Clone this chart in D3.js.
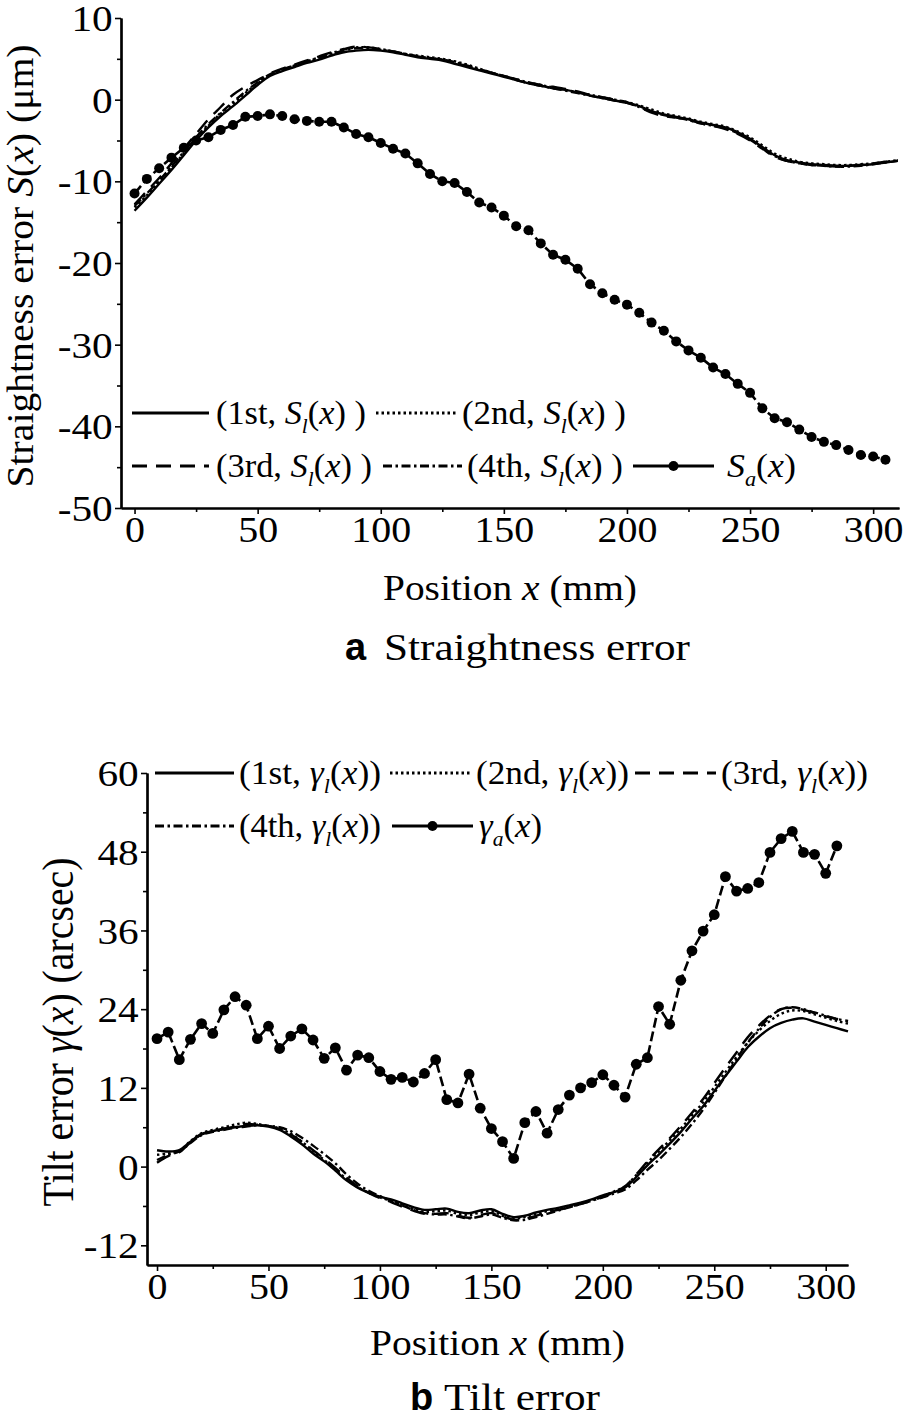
<!DOCTYPE html>
<html><head><meta charset="utf-8">
<script src="https://cdn.jsdelivr.net/npm/d3@7"></script>
<style>
body{margin:0;background:#fff}
svg{display:block}
text{font-family:"Times New Roman","Liberation Serif",Tinos,Times,serif;fill:#000}
</style>
</head><body>
<svg id="chart" width="904" height="1420"></svg>
<script>
// ---------------- DATA ----------------
const linePos = [0,5,10,15,20,25,30,35,40,45,50,55,60,65,70,75,80,85,90,95,100,105,110,115,120,125,130,135,140,145,150,155,160,165,170,175,180,185,190,195,200,205,210,215,220,225,230,235,240,245,250,255,260,265,270,275,280,285,290,295,300,305,310];
const dotPos = [0,5,10,15,20,25,30,35,40,45,50,55,60,65,70,75,80,85,90,95,100,105,110,115,120,125,130,135,140,145,150,155,160,165,170,175,180,185,190,195,200,205,210,215,220,225,230,235,240,245,250,255,260,265,270,275,280,285,290,295,300,305];

// (a) Straightness error, four measurement runs S_l(x)
const straight1st = [-13.6,-12.0,-10.3,-8.6,-6.8,-5.0,-3.4,-2.0,-0.8,0.5,
  1.8,2.9,3.5,4.0,4.5,4.9,5.4,5.8,6.0,6.1,
  6.0,5.8,5.5,5.2,5.0,4.8,4.4,4.0,3.6,3.2,
  2.8,2.4,2.0,1.7,1.4,1.2,0.9,0.5,0.2,-0.1,
  -0.4,-0.8,-1.4,-1.8,-2.1,-2.4,-2.8,-3.1,-3.4,-4.0,
  -4.8,-5.8,-6.8,-7.4,-7.7,-7.9,-8.0,-8.1,-8.1,-8.0,
  -7.9,-7.7,-7.5];
const straight2nd = [-13.2,-11.7,-10.0,-8.3,-6.6,-4.8,-3.2,-1.7,-0.5,0.8,
  2.0,3.0,3.6,4.2,4.7,5.2,5.7,6.1,6.4,6.4,
  6.2,5.9,5.6,5.4,5.2,5.0,4.7,4.3,3.8,3.3,
  2.9,2.5,2.1,1.8,1.5,1.2,0.9,0.6,0.3,0.0,
  -0.3,-0.7,-1.2,-1.7,-2.0,-2.3,-2.7,-3.0,-3.3,-3.9,
  -4.6,-5.6,-6.6,-7.2,-7.6,-7.8,-7.9,-8.0,-8.0,-7.9,
  -7.8,-7.6,-7.4];
const straight3rd = [-12.8,-11.2,-9.6,-7.8,-6.0,-4.2,-2.4,-0.9,0.6,1.6,
  2.4,3.2,3.8,4.3,4.8,5.3,5.8,6.2,6.5,6.4,
  6.2,5.9,5.6,5.3,5.1,4.9,4.5,4.1,3.7,3.3,
  2.9,2.5,2.1,1.8,1.6,1.3,1.0,0.6,0.3,0.0,
  -0.3,-0.9,-1.6,-2.0,-2.2,-2.5,-2.9,-3.2,-3.6,-4.2,
  -5.0,-6.0,-7.0,-7.5,-7.8,-8.0,-8.1,-8.2,-8.1,-8.0,
  -7.8,-7.6,-7.4];
const straight4th = [-13.0,-11.5,-9.9,-8.2,-6.4,-4.6,-3.0,-1.6,-0.3,1.0,
  2.1,3.1,3.7,4.2,4.7,5.1,5.6,6.0,6.3,6.3,
  6.1,5.9,5.6,5.3,5.1,4.9,4.6,4.2,3.7,3.3,
  2.9,2.4,2.0,1.7,1.4,1.1,0.8,0.5,0.2,-0.1,
  -0.4,-0.9,-1.5,-1.9,-2.2,-2.5,-2.9,-3.2,-3.5,-4.1,
  -4.9,-5.9,-6.9,-7.5,-7.8,-8.0,-8.1,-8.2,-8.2,-8.1,
  -7.9,-7.7,-7.5];
// S_a(x)
const straightA = [-11.5,-9.7,-8.4,-7.1,-5.9,-5.0,-4.6,-3.7,-3.1,-2.1,
  -2.0,-1.8,-2.0,-2.4,-2.6,-2.7,-2.7,-3.4,-4.2,-4.6,
  -5.3,-6.0,-6.6,-7.8,-9.1,-10.0,-10.2,-11.3,-12.6,-13.2,
  -14.2,-15.5,-16.0,-17.6,-19.0,-19.6,-20.7,-22.6,-23.7,-24.5,
  -25.1,-26.1,-27.3,-28.3,-29.6,-30.7,-31.6,-32.8,-33.6,-34.8,
  -35.9,-37.8,-39.0,-39.5,-40.4,-41.3,-41.9,-42.3,-42.9,-43.5,
  -43.7,-44.1];

// (b) Tilt error, four measurement runs gamma_l(x)
const tilt1st = [2.5,2.3,2.5,3.8,5.0,5.4,5.8,6.0,6.2,6.3,
  6.1,5.6,4.6,3.4,2.0,0.8,-0.6,-2.1,-3.2,-4.0,
  -4.6,-5.0,-5.6,-6.2,-6.6,-6.5,-6.4,-6.9,-7.1,-6.7,
  -6.5,-7.2,-7.7,-7.5,-7.0,-6.6,-6.3,-5.9,-5.5,-5.0,
  -4.4,-3.9,-3.2,-1.6,0.2,1.8,3.5,5.3,7.3,9.2,
  11.5,13.8,16.0,18.2,19.8,21.1,21.9,22.4,22.6,22.1,
  21.6,21.1,20.6];
const tilt2nd = [1.8,2.0,2.4,3.9,5.1,5.6,6.0,6.4,6.7,6.5,
  6.2,5.8,5.0,3.8,2.4,1.0,-0.4,-1.9,-3.1,-4.0,
  -4.7,-5.2,-5.8,-6.4,-6.9,-6.8,-6.7,-7.2,-7.4,-7.0,
  -6.8,-7.5,-7.9,-7.7,-7.2,-6.8,-6.4,-6.0,-5.6,-5.1,
  -4.5,-3.8,-3.0,-1.3,0.6,2.3,4.0,5.8,7.8,9.8,
  12.1,14.4,16.7,18.9,20.7,22.2,23.3,23.8,23.7,23.2,
  22.7,22.2,21.8];
const tilt3rd = [0.6,1.6,2.2,3.7,4.9,5.4,5.7,6.1,6.5,6.4,
  6.2,5.7,4.9,3.8,2.5,1.2,-0.2,-1.7,-3.0,-4.0,
  -4.8,-5.4,-6.1,-6.7,-7.2,-7.2,-7.1,-7.5,-7.8,-7.4,
  -7.1,-7.6,-8.1,-8.0,-7.5,-7.0,-6.6,-6.2,-5.7,-5.2,
  -4.6,-3.9,-3.0,-1.2,0.8,2.6,4.3,6.2,8.2,10.3,
  12.7,15.1,17.4,19.7,21.5,23.0,24.0,24.2,23.9,23.4,
  22.9,22.5,22.1];
const tilt4th = [1.0,1.8,2.3,3.6,4.8,5.3,5.6,5.9,6.1,6.3,
  6.2,6.0,5.4,4.4,3.2,1.9,0.5,-1.2,-2.6,-3.7,
  -4.5,-5.2,-5.9,-6.6,-7.1,-7.3,-7.3,-7.6,-7.9,-7.6,
  -7.3,-7.8,-8.2,-8.1,-7.7,-7.2,-6.7,-6.2,-5.7,-5.2,
  -4.7,-4.1,-3.5,-2.1,-0.5,1.0,2.7,4.5,6.5,8.7,
  11.2,13.8,16.4,18.9,21.0,22.8,24.0,24.3,24.0,23.5,
  23.0,22.5,22.2];
// gamma_a(x)
const tiltA = [19.5,20.5,16.3,19.4,21.8,20.3,23.9,25.9,24.6,19.5,
  21.4,18.0,19.9,21.0,19.3,16.5,18.1,14.7,17.0,16.6,
  14.5,13.3,13.6,12.9,14.2,16.3,10.2,9.7,14.1,8.9,
  5.8,3.8,1.25,6.7,8.4,5.1,8.7,10.9,12.0,12.8,
  14.0,12.4,10.6,15.6,16.6,24.4,21.7,28.4,32.9,35.9,
  38.4,44.2,42.0,42.4,43.3,47.9,50.0,51.1,47.9,47.6,
  44.7,48.9];

const xTicks = [0,50,100,150,200,250,300];
const xMinorTicks = [25,75,125,175,225,275];
const yTicksA = [-50,-40,-30,-20,-10,0,10];
const yMinorA = [-45,-35,-25,-15,-5,5];
const yTicksB = [-12,0,12,24,36,48,60];
const yMinorB = [-6,6,18,30,42,54];
const runNames = ["1st","2nd","3rd","4th"];

// ---------------- DRAWING ----------------
const SERIF = '"Times New Roman","Liberation Serif",Tinos,Times,serif';
const SANS = 'Arial,"Liberation Sans",Arimo,Helvetica,sans-serif';
const svg = d3.select("#chart");
const dashes = [null, "2.5,3", "15,9", "9,3.5,2.5,3.5"];

function fitText(parent, build, left, right, y, fs) {
  const g = parent.append("g");
  const t = g.append("text").style("font-size", fs + "px").style("font-family", SERIF);
  build(t, fs);
  const bb = t.node().getBBox();
  const s = (right - left) / bb.width;
  g.attr("transform", `translate(${left - bb.x * s},${y}) scale(${s},1)`);
  return g;
}
function rich(parts) {
  return (t, fs) => {
    t.attr("dy", "0.32em");
    let sub = false;
    parts.forEach(([s, k]) => {
      const ts = t.append("tspan").text(s);
      if (k === "i" || k === "s") ts.style("font-style", "italic");
      if (k === "s") { ts.style("font-size", (fs * 0.62) + "px").attr("dy", fs * 0.28); sub = true; }
      else if (sub) { ts.attr("dy", -fs * 0.28); sub = false; }
    });
  };
}

function panel(o) {
  const x = d3.scaleLinear().domain(o.xDomain).range(o.xRange);
  const y = d3.scaleLinear().domain(o.yDomain).range(o.yRange);
  const g = svg.append("g");
  const fmt = d => String(d);

  const styleAxis = sel => {
    sel.select(".domain").attr("stroke-width", 2.2);
    sel.selectAll(".tick line").attr("stroke-width", 1.6);
    sel.selectAll("text").style("font-family", SERIF)
      .style("font-size", "35px").attr("fill", "#000");
  };
  // minor ticks
  g.append("g").attr("transform", `translate(0,${o.yRange[0]})`)
    .call(d3.axisBottom(x).tickValues(xMinorTicks).tickSize(4).tickSizeOuter(0).tickFormat(""))
    .call(styleAxis);
  g.append("g").attr("transform", `translate(${o.xRange[0]},0)`)
    .call(d3.axisLeft(y).tickValues(o.yMinor).tickSize(4).tickSizeOuter(0).tickFormat(""))
    .call(styleAxis);
  // major
  const gx = g.append("g").attr("transform", `translate(0,${o.yRange[0]})`)
    .call(d3.axisBottom(x).tickValues(xTicks).tickSize(6).tickSizeOuter(0).tickPadding(3).tickFormat(fmt))
    .call(styleAxis);
  gx.selectAll("text").attr("transform", "scale(1.14,1)");
  const gy = g.append("g").attr("transform", `translate(${o.xRange[0]},0)`)
    .call(d3.axisLeft(y).tickValues(o.yTicks).tickSize(6).tickSizeOuter(0).tickPadding(1).tickFormat(fmt))
    .call(styleAxis);
  gy.selectAll("text").attr("transform", "scale(1.18,1)").attr("dy", "0.36em");

  // measurement runs
  const line = d3.line().x((d, i) => x(linePos[i])).y(d => y(d)).curve(d3.curveCatmullRom.alpha(0.5));
  o.runs.forEach((r, k) => {
    g.append("path").datum(r).attr("d", line).attr("fill", "none").attr("stroke", "#000")
      .attr("stroke-width", 2.4).attr("stroke-dasharray", dashes[k]);
  });
  // averaged series with dots
  const line2 = d3.line().x((d, i) => x(dotPos[i])).y(d => y(d));
  g.append("path").datum(o.avg).attr("d", line2).attr("fill", "none").attr("stroke", "#000")
    .attr("stroke-width", 2.6).attr("stroke-dasharray", "10,4");
  g.selectAll("circle.pt").data(o.avg).join("circle").attr("class", "pt")
    .attr("cx", (d, i) => x(dotPos[i])).attr("cy", d => y(d)).attr("r", o.r).attr("fill", "#000");

  // legend
  o.legend.forEach(it => {
    g.append("line").attr("x1", it.x1).attr("x2", it.x2).attr("y1", it.y).attr("y2", it.y)
      .attr("stroke", "#000").attr("stroke-width", 3).attr("stroke-dasharray", it.dash);
    if (it.dot) g.append("circle").attr("cx", (it.x1 + it.x2) / 2).attr("cy", it.y).attr("r", 5).attr("fill", "#000");
    fitText(g, rich(it.parts), it.tx1, it.tx2, it.y, 34);
  });

  // axis title
  fitText(g, t => {
    t.append("tspan").text("Position ");
    t.append("tspan").style("font-style", "italic").text("x");
    t.append("tspan").text(" (mm)");
  }, o.xt[0], o.xt[1], o.xt[2], 36);

  // y title (rotated)
  const yg = g.append("g");
  const yt = yg.append("text").style("font-size", o.yFont + "px").style("font-family", SERIF).attr("text-anchor", "middle");
  o.yTitle(yt);
  const bb = yt.node().getBBox();
  const s = o.ytLen / bb.width;
  yg.attr("transform", `translate(${o.ytX},${o.ytY}) scale(${o.ytCross},1) rotate(-90) scale(${s},1)`);

  // panel caption
  g.append("text").attr("x", o.cap.letterX).attr("y", o.cap.y)
    .style("font-family", SANS).style("font-weight", "bold")
    .style("font-size", "38px").text(o.cap.letter);
  fitText(g, t => t.text(o.cap.text), o.cap.x1, o.cap.x2, o.cap.y, 37);
}

const partsL = (n, sym) => [["(" + n + ", ", ""], [sym, "i"], ["l", "s"], ["(", ""], ["x", "i"], [sym === "S" ? ") )" : "))", ""]];

panel({
  xDomain: [-5.5, 310.5], xRange: [121, 899],
  yDomain: [-50, 10], yRange: [508, 18],
  yTicks: yTicksA, yMinor: yMinorA,
  runs: [straight1st, straight2nd, straight3rd, straight4th],
  avg: straightA, r: 5,
  legend: [
    {x1: 132, x2: 209, y: 413, dash: dashes[0], parts: partsL(runNames[0], "S"), tx1: 216, tx2: 366},
    {x1: 376, x2: 456, y: 413, dash: dashes[1], parts: partsL(runNames[1], "S"), tx1: 462, tx2: 626},
    {x1: 132, x2: 209, y: 466, dash: dashes[2], parts: partsL(runNames[2], "S"), tx1: 216, tx2: 372},
    {x1: 383, x2: 462, y: 466, dash: dashes[3], parts: partsL(runNames[3], "S"), tx1: 467, tx2: 623},
    {x1: 633, x2: 714, y: 466, dash: null, dot: true, parts: [["S", "i"], ["a", "s"], ["(", ""], ["x", "i"], [")", ""]], tx1: 727, tx2: 796}
  ],
  xt: [383, 637, 600],
  yFont: 38, ytLen: 443, ytX: 33, ytY: 266, ytCross: 1.0,
  yTitle: t => {
    t.append("tspan").text("Straightness error ");
    t.append("tspan").style("font-style", "italic").text("S");
    t.append("tspan").text("(");
    t.append("tspan").style("font-style", "italic").text("x");
    t.append("tspan").text(") (\u03bcm)");
  },
  cap: {letter: "a", letterX: 345, text: "Straightness error", x1: 384, x2: 690, y: 660}
});

panel({
  xDomain: [-4.5, 310], xRange: [147, 848],
  yDomain: [-15, 60], yRange: [1265, 773],
  yTicks: yTicksB, yMinor: yMinorB,
  runs: [tilt1st, tilt2nd, tilt3rd, tilt4th],
  avg: tiltA, r: 5.4,
  legend: [
    {x1: 155, x2: 234, y: 773, dash: dashes[0], parts: partsL(runNames[0], "\u03b3"), tx1: 239, tx2: 381},
    {x1: 390, x2: 470, y: 773, dash: dashes[1], parts: partsL(runNames[1], "\u03b3"), tx1: 476, tx2: 629},
    {x1: 635, x2: 716, y: 773, dash: dashes[2], parts: partsL(runNames[2], "\u03b3"), tx1: 721, tx2: 868},
    {x1: 155, x2: 234, y: 826, dash: dashes[3], parts: partsL(runNames[3], "\u03b3"), tx1: 239, tx2: 381},
    {x1: 392, x2: 473, y: 826, dash: null, dot: true, parts: [["\u03b3", "i"], ["a", "s"], ["(", ""], ["x", "i"], [")", ""]], tx1: 479, tx2: 542}
  ],
  xt: [370, 625, 1355],
  yFont: 38, ytLen: 349, ytX: 73, ytY: 1032, ytCross: 1.15,
  yTitle: t => {
    t.append("tspan").text("Tilt error ");
    t.append("tspan").style("font-style", "italic").text("\u03b3");
    t.append("tspan").text("(");
    t.append("tspan").style("font-style", "italic").text("x");
    t.append("tspan").text(") (arcsec)");
  },
  cap: {letter: "b", letterX: 410, text: "Tilt error", x1: 444, x2: 600, y: 1410}
});
</script>
</body></html>
